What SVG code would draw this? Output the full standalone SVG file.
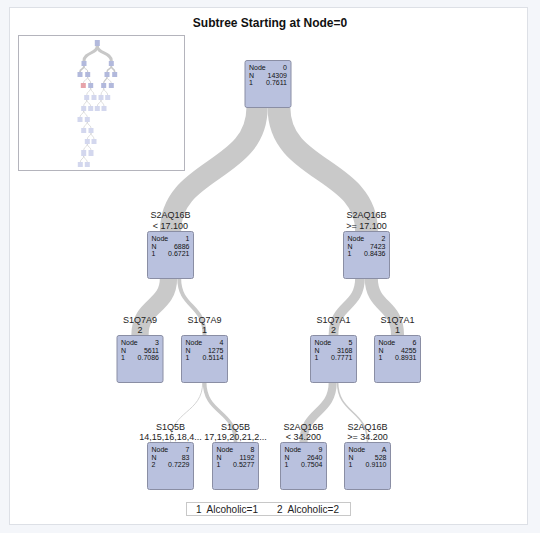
<svg xmlns="http://www.w3.org/2000/svg" width="540" height="533" viewBox="0 0 540 533">
<style>
.bg{fill:#f4f6fa}
.panel{fill:#ffffff;stroke:#dde0e6;stroke-width:1}
.title{font-family:"Liberation Sans",Arial,sans-serif;font-size:12px;font-weight:bold;fill:#111;text-anchor:middle}
.box{fill:#b9c1de;stroke:#8a8ea4;stroke-width:1}
.nt{font-family:"Liberation Sans",Arial,sans-serif;font-size:7px;fill:#111}
.r{text-anchor:end}
.lbl{font-family:"Liberation Sans",Arial,sans-serif;font-size:9px;fill:#222;text-anchor:middle}
.band{fill:none;stroke:#c9c9c9}
.ov{fill:#ffffff;stroke:#b4b4bc;stroke-width:1}
.m1{fill:#b2b9dc}
.m2{fill:#d3d7ee}
.mr{fill:#e6a3aa}
.ml{fill:none;stroke:#c8c8c8}
.leg{font-family:"Liberation Sans",Arial,sans-serif;font-size:10px;fill:#222}
.legbox{fill:#ffffff;stroke:#c8c8c8;stroke-width:1}
</style>
<rect class="bg" x="0" y="0" width="540" height="533"/>
<rect class="panel" x="9.5" y="7.5" width="518" height="517"/>
<text class="title" x="270" y="27">Subtree Starting at Node=0</text>

<g id="overview">
<rect class="ov" x="18.5" y="35.5" width="166" height="135"/>
<g class="ml">
<path d="M97.3,46 C97.3,54 84,52 84,61" stroke-width="3"/>
<path d="M97.3,46 C97.3,54 111.3,52 111.3,61" stroke-width="3"/>
<path d="M84,66 C84,70 80,68 80,72" stroke-width="1.8"/>
<path d="M84,66 C84,70 87.7,68 87.7,72" stroke-width="1"/>
<path d="M111.3,66 C111.3,70 107,68 107,72" stroke-width="1.4"/>
<path d="M111.3,66 C111.3,70 114.7,68 114.7,72" stroke-width="1.6"/>
<path d="M87.7,77 C87.7,80 83.3,80 83.3,83" stroke-width="0.6"/>
<path d="M87.7,77 C87.7,80 90.7,80 90.7,83" stroke-width="0.8"/>
<path d="M107,77 C107,80 103.7,80 103.7,83" stroke-width="1.2"/>
<path d="M107,77 C107,80 111.3,80 111.3,83" stroke-width="0.6"/>
<path d="M90.7,88 C90.7,92 86.7,91 86.7,95" stroke-width="0.6"/>
<path d="M90.7,88 C90.7,92 94,91 94,95" stroke-width="0.6"/>
<path d="M103.7,88 C103.7,92 101,91 101,95" stroke-width="0.6"/>
<path d="M103.7,88 C103.7,92 107.7,91 107.7,95" stroke-width="0.6"/>
<path d="M86.7,100 C86.7,103 83.7,103 83.7,106" stroke-width="0.6"/>
<path d="M86.7,100 C86.7,103 90.7,103 90.7,106" stroke-width="0.6"/>
<path d="M101,100 C101,103 97.3,103 97.3,106" stroke-width="0.6"/>
<path d="M101,100 C101,103 104,103 104,106" stroke-width="0.6"/>
<path d="M83.7,111 C83.7,114 80,114 80,117" stroke-width="0.6"/>
<path d="M83.7,111 C83.7,114 87.3,114 87.3,117" stroke-width="0.6"/>
<path d="M87.3,122 C87.3,125 83.7,125 83.7,128" stroke-width="0.6"/>
<path d="M87.3,122 C87.3,125 91,125 91,128" stroke-width="0.6"/>
<path d="M91,133 C91,136 87.3,136 87.3,139" stroke-width="0.6"/>
<path d="M91,133 C91,136 94,136 94,139" stroke-width="0.6"/>
<path d="M87.3,144 C87.3,147 83.7,147 83.7,150" stroke-width="0.6"/>
<path d="M87.3,144 C87.3,147 91,147 91,150" stroke-width="0.6"/>
<path d="M83.7,156 C83.7,159 80.3,159 80.3,162" stroke-width="0.6"/>
<path d="M83.7,156 C83.7,159 87.3,159 87.3,162" stroke-width="0.6"/>
</g>
<g class="m1">
<rect x="94.8" y="40" width="5" height="6"/>
<rect x="81.5" y="61" width="5" height="5"/>
<rect x="108.8" y="61" width="5" height="5"/>
<rect x="77.5" y="72" width="5" height="5"/>
<rect x="85.2" y="72" width="5" height="5"/>
<rect x="104.5" y="72" width="5" height="5"/>
<rect x="112.2" y="72" width="5" height="5"/>
<rect x="88.2" y="83" width="5" height="5"/>
<rect x="101.2" y="83" width="5" height="5"/>
<rect x="108.8" y="83" width="5" height="5"/>
</g>
<rect class="mr" x="80.8" y="83" width="5" height="5"/>
<g class="m2">
<rect x="84.2" y="95" width="5" height="5"/>
<rect x="91.5" y="95" width="5" height="5"/>
<rect x="98.5" y="95" width="5" height="5"/>
<rect x="105.2" y="95" width="5" height="5"/>
<rect x="81.2" y="106" width="5" height="5"/>
<rect x="88.2" y="106" width="5" height="5"/>
<rect x="94.8" y="106" width="5" height="5"/>
<rect x="101.5" y="106" width="5" height="5"/>
<rect x="77.5" y="117" width="5" height="5"/>
<rect x="84.8" y="117" width="5" height="5"/>
<rect x="81.2" y="128" width="5" height="5"/>
<rect x="88.5" y="128" width="5" height="5"/>
<rect x="84.8" y="139" width="5" height="5"/>
<rect x="91.5" y="139" width="5" height="5"/>
<rect x="81.2" y="150" width="5" height="6"/>
<rect x="88.5" y="150" width="5" height="6"/>
<rect x="77.8" y="162" width="5" height="5"/>
<rect x="84.8" y="162" width="5" height="5"/>
</g>
</g>

<g id="connectors">
<path class="band" d="M257,108 C257,172 170.5,168 170.5,231" stroke-width="21.2"/>
<path class="band" d="M279,108 C279,172 366.5,168 366.5,231" stroke-width="22.8"/>
<path class="band" d="M168.5,278 C168.5,308 140,304 140,335" stroke-width="17.3"/>
<path class="band" d="M179.2,278 C179.2,308 204.5,304 204.5,335" stroke-width="3.9"/>
<path class="band" d="M360,278 C360,308 333.5,304 333.5,335" stroke-width="9.7"/>
<path class="band" d="M371.3,278 C371.3,308 397.5,304 397.5,335" stroke-width="13.1"/>
<path class="band" d="M202.7,382 C202.7,414 170.5,410 170.5,442" stroke-width="0.8"/>
<path class="band" d="M204.6,382 C204.6,414 235.5,410 235.5,442" stroke-width="3.7"/>
<path class="band" d="M332.7,382 C332.7,414 303.5,410 303.5,442" stroke-width="8.1"/>
<path class="band" d="M337.6,382 C337.6,414 367.5,410 367.5,442" stroke-width="1.6"/>
</g>

<g id="node0">
<rect class="box" x="245" y="60.5" width="46" height="47" rx="2"/>
<text class="nt" x="249" y="70">Node</text><text class="nt r" x="287" y="70">0</text>
<text class="nt" x="249" y="77.5">N</text><text class="nt r" x="287" y="77.5">14309</text>
<text class="nt" x="249" y="85">1</text><text class="nt r" x="287" y="85">0.7611</text>
</g>

<g id="node1">
<text class="lbl" x="170.5" y="218">S2AQ16B</text>
<text class="lbl" x="170.5" y="229">&lt; 17.100</text>
<rect class="box" x="147.5" y="231.5" width="46" height="47" rx="2"/>
<text class="nt" x="151.5" y="241">Node</text><text class="nt r" x="189.5" y="241">1</text>
<text class="nt" x="151.5" y="248.5">N</text><text class="nt r" x="189.5" y="248.5">6886</text>
<text class="nt" x="151.5" y="256">1</text><text class="nt r" x="189.5" y="256">0.6721</text>
</g>

<g id="node2">
<text class="lbl" x="366.5" y="218">S2AQ16B</text>
<text class="lbl" x="366.5" y="229">&gt;= 17.100</text>
<rect class="box" x="343.5" y="231.5" width="46" height="47" rx="2"/>
<text class="nt" x="347.5" y="241">Node</text><text class="nt r" x="385.5" y="241">2</text>
<text class="nt" x="347.5" y="248.5">N</text><text class="nt r" x="385.5" y="248.5">7423</text>
<text class="nt" x="347.5" y="256">1</text><text class="nt r" x="385.5" y="256">0.8436</text>
</g>

<g id="node3">
<text class="lbl" x="140" y="323">S1Q7A9</text>
<text class="lbl" x="140" y="333">2</text>
<rect class="box" x="117" y="335.5" width="46" height="47" rx="2"/>
<text class="nt" x="121" y="345">Node</text><text class="nt r" x="159" y="345">3</text>
<text class="nt" x="121" y="352.5">N</text><text class="nt r" x="159" y="352.5">5611</text>
<text class="nt" x="121" y="360">1</text><text class="nt r" x="159" y="360">0.7086</text>
</g>

<g id="node4">
<text class="lbl" x="204.5" y="323">S1Q7A9</text>
<text class="lbl" x="204.5" y="333">1</text>
<rect class="box" x="181.5" y="335.5" width="46" height="47" rx="2"/>
<text class="nt" x="185.5" y="345">Node</text><text class="nt r" x="223.5" y="345">4</text>
<text class="nt" x="185.5" y="352.5">N</text><text class="nt r" x="223.5" y="352.5">1275</text>
<text class="nt" x="185.5" y="360">1</text><text class="nt r" x="223.5" y="360">0.5114</text>
</g>

<g id="node5">
<text class="lbl" x="333.5" y="323">S1Q7A1</text>
<text class="lbl" x="333.5" y="333">2</text>
<rect class="box" x="310.5" y="335.5" width="46" height="47" rx="2"/>
<text class="nt" x="314.5" y="345">Node</text><text class="nt r" x="352.5" y="345">5</text>
<text class="nt" x="314.5" y="352.5">N</text><text class="nt r" x="352.5" y="352.5">3168</text>
<text class="nt" x="314.5" y="360">1</text><text class="nt r" x="352.5" y="360">0.7771</text>
</g>

<g id="node6">
<text class="lbl" x="397.5" y="323">S1Q7A1</text>
<text class="lbl" x="397.5" y="333">1</text>
<rect class="box" x="374.5" y="335.5" width="46" height="47" rx="2"/>
<text class="nt" x="378.5" y="345">Node</text><text class="nt r" x="416.5" y="345">6</text>
<text class="nt" x="378.5" y="352.5">N</text><text class="nt r" x="416.5" y="352.5">4255</text>
<text class="nt" x="378.5" y="360">1</text><text class="nt r" x="416.5" y="360">0.8931</text>
</g>

<g id="node7">
<text class="lbl" x="170.5" y="430">S1Q5B</text>
<text class="lbl" x="170.5" y="440">14,15,16,18,4...</text>
<rect class="box" x="147.5" y="442.5" width="46" height="47" rx="2"/>
<text class="nt" x="151.5" y="452">Node</text><text class="nt r" x="189.5" y="452">7</text>
<text class="nt" x="151.5" y="459.5">N</text><text class="nt r" x="189.5" y="459.5">83</text>
<text class="nt" x="151.5" y="467">2</text><text class="nt r" x="189.5" y="467">0.7229</text>
</g>

<g id="node8">
<text class="lbl" x="235.5" y="430">S1Q5B</text>
<text class="lbl" x="235.5" y="440">17,19,20,21,2...</text>
<rect class="box" x="212.5" y="442.5" width="46" height="47" rx="2"/>
<text class="nt" x="216.5" y="452">Node</text><text class="nt r" x="254.5" y="452">8</text>
<text class="nt" x="216.5" y="459.5">N</text><text class="nt r" x="254.5" y="459.5">1192</text>
<text class="nt" x="216.5" y="467">1</text><text class="nt r" x="254.5" y="467">0.5277</text>
</g>

<g id="node9">
<text class="lbl" x="303.5" y="430">S2AQ16B</text>
<text class="lbl" x="303.5" y="440">&lt; 34.200</text>
<rect class="box" x="280.5" y="442.5" width="46" height="47" rx="2"/>
<text class="nt" x="284.5" y="452">Node</text><text class="nt r" x="322.5" y="452">9</text>
<text class="nt" x="284.5" y="459.5">N</text><text class="nt r" x="322.5" y="459.5">2640</text>
<text class="nt" x="284.5" y="467">1</text><text class="nt r" x="322.5" y="467">0.7504</text>
</g>

<g id="nodeA">
<text class="lbl" x="367.5" y="430">S2AQ16B</text>
<text class="lbl" x="367.5" y="440">&gt;= 34.200</text>
<rect class="box" x="344.5" y="442.5" width="46" height="47" rx="2"/>
<text class="nt" x="348.5" y="452">Node</text><text class="nt r" x="386.5" y="452">A</text>
<text class="nt" x="348.5" y="459.5">N</text><text class="nt r" x="386.5" y="459.5">528</text>
<text class="nt" x="348.5" y="467">1</text><text class="nt r" x="386.5" y="467">0.9110</text>
</g>

<g id="legend">
<rect class="legbox" x="186.5" y="502.5" width="164" height="13"/>
<text class="leg" x="196" y="512.5" xml:space="preserve">1  Alcoholic=1</text>
<text class="leg" x="277" y="512.5" xml:space="preserve">2  Alcoholic=2</text>
</g>
</svg>
